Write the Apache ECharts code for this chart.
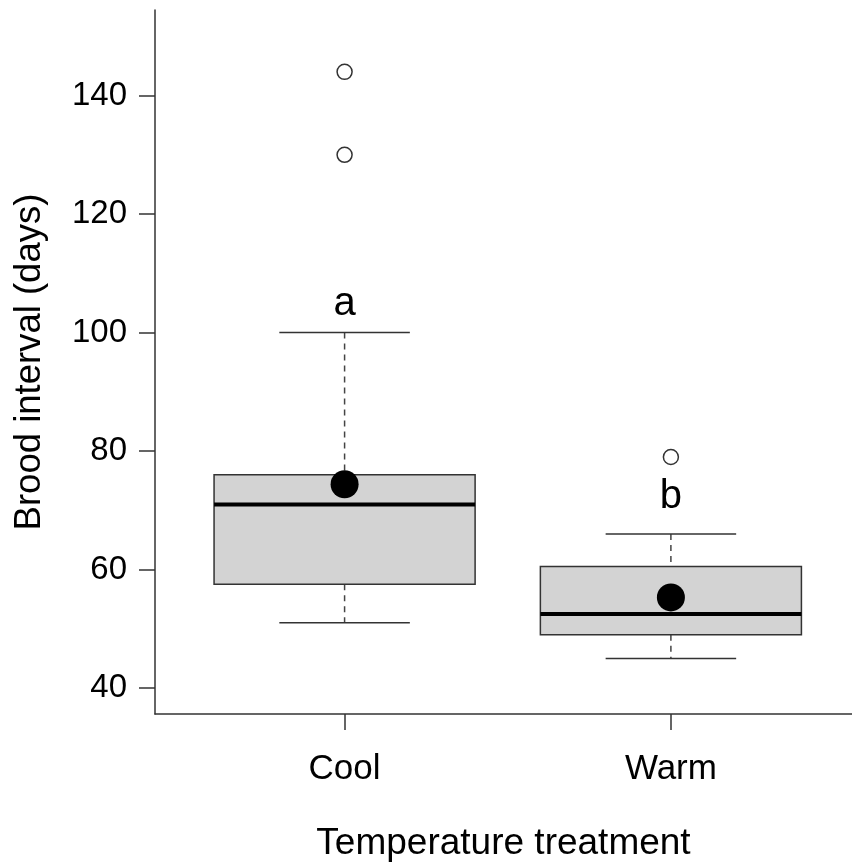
<!DOCTYPE html>
<html>
<head>
<meta charset="utf-8">
<script src="https://cdn.jsdelivr.net/npm/echarts@6/dist/echarts.min.js"></script>
<style>html,body{margin:0;padding:0;background:#fff}#c{width:852px;height:867px}</style>
</head>
<body>
<div id="c"></div>
<script>
// ---- data ----
var categories = ['Cool', 'Warm'];
var catPos = [1, 2];
// [whiskerLow, Q1, median, Q3, whiskerHigh]
var boxStats = [
  [51, 57.5, 71, 76, 100],
  [45, 49, 52.5, 60.5, 66]
];
var means = [74.4, 55.3];
var outliersCool = [130, 144];
var outliersWarm = [79];
var letters = ['a', 'b'];
var letterY = [104.9, 72.2];
var yTicks = [40, 60, 80, 100, 120, 140];

var FONT = 'Liberation Sans, Arial, sans-serif';
var chart = echarts.init(document.getElementById('c'));

var boxData = boxStats.map(function (s, i) { return [catPos[i]].concat(s); });
var meanData = means.map(function (m, i) { return [catPos[i], m]; });
var outData = outliersCool.map(function (v) { return [catPos[0], v]; })
  .concat(outliersWarm.map(function (v) { return [catPos[1], v]; }));
var letterData = letters.map(function (l, i) { return [catPos[i], letterY[i], l]; });

var HALF_BOX = 0.4, HALF_CAP = 0.2;

function renderBox(params, api) {
  var x = api.value(0);
  var lo = api.value(1), q1 = api.value(2), md = api.value(3), q3 = api.value(4), hi = api.value(5);
  var pL = api.coord([x - HALF_BOX, q3]);
  var pR = api.coord([x + HALF_BOX, q1]);
  var cTop = api.coord([x, hi]);
  var cQ3 = api.coord([x, q3]);
  var cQ1 = api.coord([x, q1]);
  var cLo = api.coord([x, lo]);
  var capL = api.coord([x - HALF_CAP, hi]);
  var capR = api.coord([x + HALF_CAP, hi]);
  var capL2 = api.coord([x - HALF_CAP, lo]);
  var capR2 = api.coord([x + HALF_CAP, lo]);
  var mL = api.coord([x - HALF_BOX, md]);
  var mR = api.coord([x + HALF_BOX, md]);
  var dashStyle = { stroke: '#444', lineWidth: 1.5, lineDash: [6, 5] };
  var solid = { stroke: '#333', lineWidth: 1.5 };
  return {
    type: 'group',
    children: [
      { type: 'line', shape: { x1: cTop[0], y1: cTop[1], x2: cQ3[0], y2: cQ3[1] }, style: dashStyle },
      { type: 'line', shape: { x1: cQ1[0], y1: cQ1[1], x2: cLo[0], y2: cLo[1] }, style: dashStyle },
      { type: 'line', shape: { x1: capL[0], y1: capL[1], x2: capR[0], y2: capR[1] }, style: solid },
      { type: 'line', shape: { x1: capL2[0], y1: capL2[1], x2: capR2[0], y2: capR2[1] }, style: solid },
      { type: 'rect', shape: { x: pL[0], y: pL[1], width: pR[0] - pL[0], height: pR[1] - pL[1] },
        style: { fill: '#d3d3d3', stroke: '#333', lineWidth: 1.5 } },
      { type: 'line', shape: { x1: mL[0], y1: mL[1], x2: mR[0], y2: mR[1] },
        style: { stroke: '#000', lineWidth: 4 } }
    ]
  };
}

function renderLetter(params, api) {
  var p = api.coord([api.value(0), api.value(1)]);
  return {
    type: 'text',
    x: p[0], y: p[1],
    style: { text: letters[params.dataIndex], fontSize: 40, fontFamily: FONT, fill: '#000',
      align: 'center', verticalAlign: 'middle' }
  };
}

chart.setOption({
  animation: false,
  backgroundColor: '#fff',
  grid: { left: 155, right: 0, top: 10, bottom: 152, containLabel: false },
  xAxis: {
    type: 'value', min: 0.419, max: 2.555,
    splitLine: { show: false },
    axisLine: { show: true, lineStyle: { color: '#333', width: 1.5 } },
    axisTick: { show: true, customValues: catPos, length: 16, lineStyle: { color: '#333', width: 1.5 } },
    axisLabel: { customValues: catPos, margin: 38, fontSize: 35, fontFamily: FONT, color: '#000',
      formatter: function (v) { return categories[Math.round(v) - 1]; } },
    name: 'Temperature treatment', nameLocation: 'middle', nameGap: 111,
    nameTextStyle: { fontSize: 37, fontFamily: FONT, color: '#000' }
  },
  yAxis: {
    type: 'value', min: 35.62, max: 154.44,
    splitLine: { show: false },
    axisLine: { show: true, lineStyle: { color: '#333', width: 1.5 } },
    axisTick: { show: true, customValues: yTicks, length: 16, lineStyle: { color: '#333', width: 1.5 } },
    axisLabel: { customValues: yTicks, margin: 28, fontSize: 33, fontFamily: FONT, color: '#000' },
    name: 'Brood interval (days)', nameLocation: 'middle', nameGap: 107, nameRotate: 90,
    nameTextStyle: { fontSize: 36.5, fontFamily: FONT, color: '#000' }
  },
  series: [
    { type: 'custom', renderItem: renderBox, data: boxData, encode: { x: 0, y: [1, 2, 3, 4, 5] }, z: 2 },
    { type: 'scatter', data: outData, symbol: 'circle', symbolSize: 15,
      itemStyle: { color: '#fff', borderColor: '#333', borderWidth: 1.5, opacity: 1 }, z: 3 },
    { type: 'scatter', data: meanData, symbol: 'circle', symbolSize: 28,
      itemStyle: { color: '#000', opacity: 1 }, z: 4 },
    { type: 'custom', renderItem: renderLetter, data: letterData, encode: { x: 0, y: 1 }, z: 5 }
  ]
});
</script>
</body>
</html>
